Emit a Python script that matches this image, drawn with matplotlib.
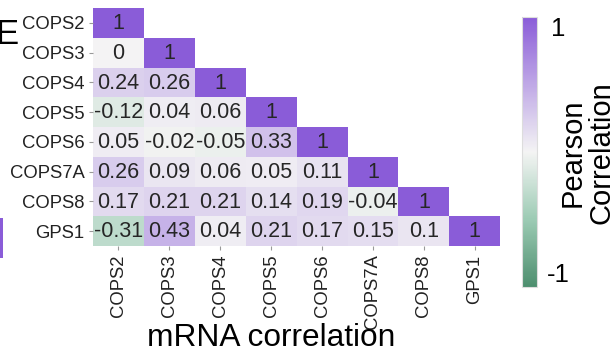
import numpy as np
import matplotlib
matplotlib.use("Agg")
import matplotlib.pyplot as plt
from matplotlib.colors import LinearSegmentedColormap
from matplotlib.patches import Rectangle

plt.rcParams['font.family'] = ['Liberation Sans', 'DejaVu Sans']

genes = ['COPS2', 'COPS3', 'COPS4', 'COPS5', 'COPS6', 'COPS7A', 'COPS8', 'GPS1']

# lower triangle of the mRNA correlation matrix, one row per gene
row_cops2 = [1]
row_cops3 = [0, 1]
row_cops4 = [0.24, 0.26, 1]
row_cops5 = [-0.12, 0.04, 0.06, 1]
row_cops6 = [0.05, -0.02, -0.05, 0.33, 1]
row_cops7a = [0.26, 0.09, 0.06, 0.05, 0.11, 1]
row_cops8 = [0.17, 0.21, 0.21, 0.14, 0.19, -0.04, 1]
row_gps1 = [-0.31, 0.43, 0.04, 0.21, 0.17, 0.15, 0.1, 1]

rows = [row_cops2, row_cops3, row_cops4, row_cops5,
        row_cops6, row_cops7a, row_cops8, row_gps1]

n = len(genes)
corr = np.full((n, n), np.nan)
for i, r in enumerate(rows):
    corr[i, :len(r)] = r

cmap = LinearSegmentedColormap.from_list(
    'gw_purple', [(0.0, '#4d8e6e'), (0.25, '#9ccbb4'),
                  (0.5, '#f4f4f4'), (1.0, '#8a5cd8')])

fig = plt.figure(figsize=(6.16, 3.51), dpi=100)
ax = fig.add_axes([0.151, 0.299, 0.661, 0.678])

masked = np.ma.masked_invalid(corr)
im = ax.pcolormesh(np.arange(n + 1), np.arange(n + 1), masked,
                   cmap=cmap, vmin=-1, vmax=1)
ax.set_xlim(0, n)
ax.set_ylim(n, 0)

for i in range(n):
    for j in range(n):
        if not np.isnan(corr[i, j]):
            txt = '%g' % corr[i, j]
            ax.text(j + 0.5, i + 0.52, txt, ha='center', va='center',
                    fontsize=15.5, color='#262626')

ax.set_xticks(np.arange(n) + 0.5)
ax.set_yticks(np.arange(n) + 0.5)
ax.set_xticklabels(genes, rotation=90, fontsize=13.3, color='#222222')
ax.set_yticklabels(genes, fontsize=13.3, color='#222222')
ax.tick_params(length=3, width=0.8, color='#999999', pad=3)
for s in ax.spines.values():
    s.set_visible(False)

fig.text(271 / 616, 1 - 346 / 351, 'mRNA correlation', fontsize=22.8,
         ha='center', va='baseline')

# colour bar on the right
cax = fig.add_axes([0.847, 0.182, 0.025, 0.77])
cb = fig.colorbar(im, cax=cax, ticks=[-1, 1])
cb.ax.tick_params(length=0, labelsize=18.5, pad=15)
cb.ax.set_yticklabels(['-1', '1'])
labels = cb.ax.get_yticklabels()
for lab in labels:
    lab.set_ha('center')
labels[0].set_va('bottom')
labels[1].set_va('top')
cb.outline.set_edgecolor('#dddddd')
cb.outline.set_linewidth(0.8)
fig.text(0.953, 0.565, 'Pearson\nCorrelation', rotation=90,
         ha='center', va='center', fontsize=21, linespacing=1.0)

# panel letter and sliver of the neighbouring panel
fig.text(-5 / 616, 1 - 34 / 351, 'E', fontsize=25, ha='left', va='center')
fig.patches.append(Rectangle((0, 1 - 258 / 351), 3 / 616, 40 / 351,
                             transform=fig.transFigure,
                             facecolor='#8a5cd8', edgecolor='none'))

fig.savefig('out.png', dpi=100)
